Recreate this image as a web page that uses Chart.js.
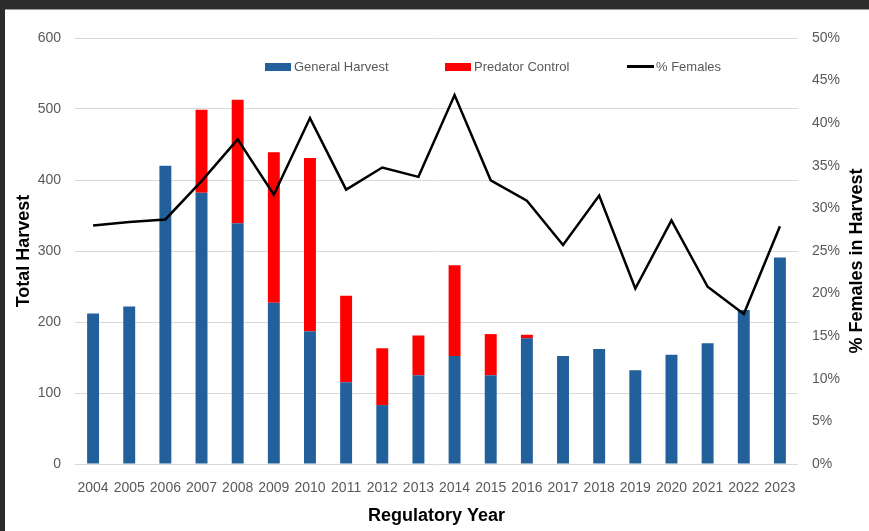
<!DOCTYPE html>
<html>
<head>
<meta charset="utf-8">
<script src="https://cdn.jsdelivr.net/npm/chart.js@4.4.1/dist/chart.umd.min.js"></script>
<style>
  html, body { margin: 0; padding: 0; background: #2b2b2b; width: 869px; height: 531px; overflow: hidden; }
  #frame { position: absolute; left: 5px; top: 10px; width: 864px; height: 521px; background: #fff; }
  #frame canvas { display: block; }
  #topline { position: absolute; left: 5px; top: 9px; width: 864px; height: 1px; background: #9a9a9a; }
  #legend { position: absolute; top: 59px; left: 265px; display: flex; font: 13px "Liberation Sans", Arial, sans-serif; color: #595959; }
  .item { display: flex; align-items: center; }
  .swatch { width: 26px; height: 8px; margin-right: 3px; }
  .lineSwatch { width: 27px; height: 3px; background: #000; margin-right: 2px; }
</style>
</head>
<body>
<div id="frame"><canvas id="harvestChart" width="864" height="521"></canvas></div>
<div id="topline"></div>
<div id="legend">
  <div class="item" style="width:180px"><span class="swatch" style="background:#22609c"></span>General Harvest</div>
  <div class="item" style="width:182px"><span class="swatch" style="background:#ff0000"></span>Predator Control</div>
  <div class="item"><span class="lineSwatch"></span>% Females</div>
</div>
<script>
// --- Data ---
const years = ['2004','2005','2006','2007','2008','2009','2010','2011','2012','2013',
               '2014','2015','2016','2017','2018','2019','2020','2021','2022','2023'];
const generalHarvest = [212, 222, 420, 382, 339, 227, 187, 115, 83, 125,
                        152, 125, 177, 152, 162, 132, 154, 170, 217, 291];
const predatorControl = [0, 0, 0, 117, 174, 212, 244, 122, 80, 56,
                         128, 58, 5, 0, 0, 0, 0, 0, 0, 0];
const pctFemales = [28.0, 28.4, 28.7, 33.2, 38.1, 31.6, 40.6, 32.2, 34.8, 33.7,
                    43.3, 33.3, 30.9, 25.7, 31.5, 20.6, 28.6, 20.8, 17.6, 27.9];

const tickColor = '#595959';
const tickFont = { family: '"Liberation Sans", Arial, sans-serif', size: 14 };
const titleFont = { family: '"Liberation Sans", Arial, sans-serif', size: 18, weight: 'bold' };

// Right axis title reads bottom-to-top, so draw it ourselves
const rightTitle = {
  id: 'rightTitle',
  afterDraw(chart) {
    const ctx = chart.ctx;
    const area = chart.chartArea;
    ctx.save();
    ctx.translate(chart.width - 12, (area.top + area.bottom) / 2 + 10);
    ctx.rotate(-Math.PI / 2);
    ctx.font = 'bold 18px "Liberation Sans", Arial, sans-serif';
    ctx.fillStyle = '#000';
    ctx.textAlign = 'center';
    ctx.textBaseline = 'middle';
    ctx.fillText('% Females in Harvest', 0, 0);
    ctx.restore();
  }
};

const ctx = document.getElementById('harvestChart').getContext('2d');
const harvestChart = new Chart(ctx, {
  type: 'bar',
  data: {
    labels: years,
    datasets: [
      {
        type: 'line',
        label: '% Females',
        data: pctFemales,
        yAxisID: 'y1',
        borderColor: '#000',
        borderWidth: 2.5,
        pointRadius: 0,
        tension: 0,
        order: 0
      },
      {
        label: 'General Harvest',
        data: generalHarvest,
        backgroundColor: '#22609c',
        yAxisID: 'y',
        order: 1
      },
      {
        label: 'Predator Control',
        data: predatorControl,
        backgroundColor: '#ff0000',
        yAxisID: 'y',
        order: 1
      }
    ]
  },
  options: {
    responsive: false,
    animation: false,
    devicePixelRatio: 1,
    layout: { padding: { top: 28, left: 0, right: 0, bottom: 0 } },
    datasets: { bar: { barPercentage: 0.33, categoryPercentage: 1 } },
    plugins: {
      legend: { display: false },
      tooltip: { enabled: false }
    },
    scales: {
      x: {
        stacked: true,
        grid: { display: false },
        border: { display: false },
        ticks: { color: tickColor, font: tickFont, maxRotation: 0, autoSkip: false, padding: 8 },
        title: { display: true, text: 'Regulatory Year', color: '#000', font: titleFont, padding: { top: 4 } },
        afterFit(scale) { scale.height = 67; }
      },
      y: {
        stacked: true,
        min: 0,
        max: 600,
        ticks: { stepSize: 100, color: tickColor, font: tickFont, padding: 14 },
        grid: { color: '#d9d9d9', drawTicks: false },
        border: { display: false },
        title: { display: true, text: 'Total Harvest', color: '#000', font: titleFont, padding: { top: 8, bottom: 4 } },
        afterFit(scale) { scale.width = 70; }
      },
      y1: {
        position: 'right',
        min: 0,
        max: 50,
        ticks: { stepSize: 5, color: tickColor, font: tickFont, padding: 14, callback: v => v + '%' },
        grid: { display: false, drawTicks: false },
        border: { display: false },
        afterFit(scale) { scale.width = 71; }
      }
    }
  },
  plugins: [rightTitle]
});
</script>
</body>
</html>
